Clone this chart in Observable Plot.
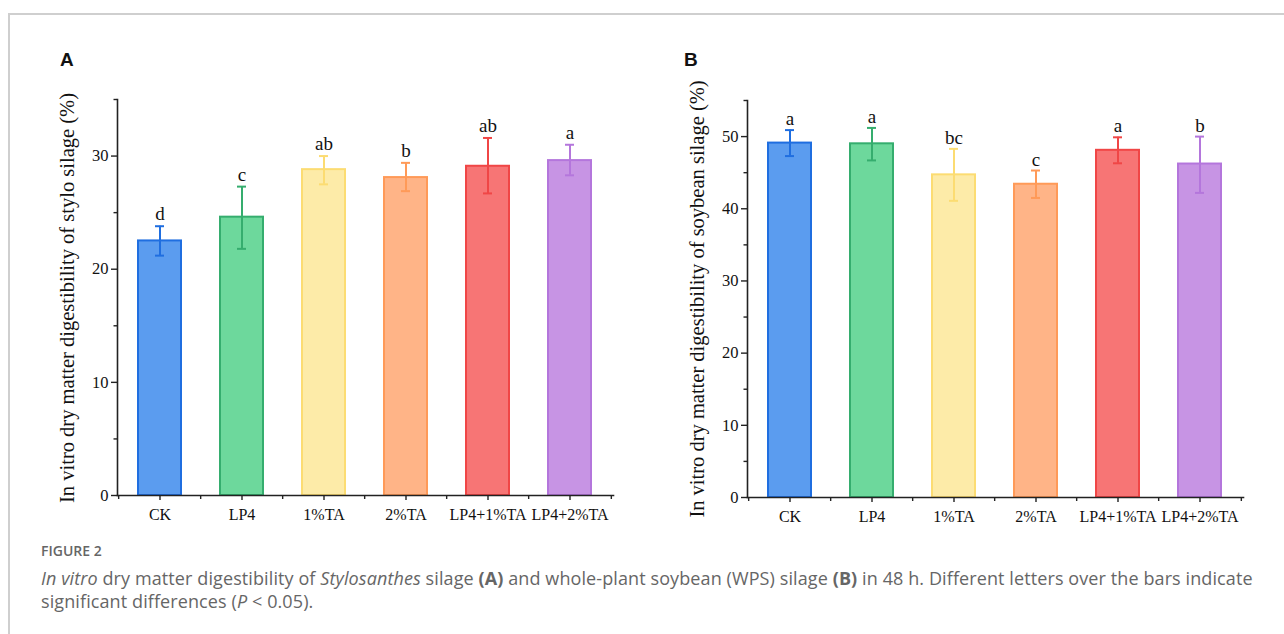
<!DOCTYPE html>
<html>
<head>
<meta charset="utf-8">
<script src="https://cdn.jsdelivr.net/npm/d3@7"></script>
<script src="https://cdn.jsdelivr.net/npm/@observablehq/plot@0.6"></script>
<style>
  html, body { margin: 0; padding: 0; background: #fff; }
  #page { position: relative; width: 1284px; height: 634px; overflow: hidden; }
  .frame { position: absolute; left: 8px; top: 13px; width: 1290px; height: 640px; border-top: 2px solid #cfcfcf; border-left: 2px solid #cfcfcf; }
  .panel { position: absolute; }
  .ytitle { position: absolute; font-family: "Liberation Serif", serif; font-size: 20.5px; color: #111; white-space: nowrap; transform: translate(-50%, -50%) rotate(-90deg); }
  .letter { position: absolute; font-family: "Liberation Sans", Arial, sans-serif; font-weight: bold; font-size: 19px; color: #111; }
  .figlab { position: absolute; left: 41px; top: 541px; font-family: "Open Sans", sans-serif; font-weight: 600; font-size: 14px; color: #666; }
  .caption { position: absolute; left: 41px; top: 567px; font-family: "Open Sans", sans-serif; font-size: 18px; letter-spacing: 0.1px; line-height: 23px; color: #666; white-space: nowrap; }
</style>
</head>
<body>
<div id="page">
  <div class="frame"></div>
  <div class="letter" style="left:60px; top:49px;">A</div>
  <div class="letter" style="left:684px; top:49px;">B</div>
  <div class="ytitle" style="left:67px; top:298px;">In vitro dry matter digestibility of stylo silage (%)</div>
  <div class="ytitle" style="left:697px; top:299px;">In vitro dry matter digestibility of soybean silage (%)</div>
  <div class="panel" id="panelA" style="left:40px; top:70px;"></div>
  <div class="panel" id="panelB" style="left:670px; top:70px;"></div>
  <div class="figlab">FIGURE 2</div>
  <div class="caption"><i>In vitro</i> dry matter digestibility of <i>Stylosanthes</i> silage <b>(A)</b> and whole-plant soybean (WPS) silage <b>(B)</b> in 48 h. Different letters over the bars indicate<br>significant differences (<i>P</i> &lt; 0.05).</div>
</div>
<script>
// ---- Data ----
const categories = ["CK", "LP4", "1%TA", "2%TA", "LP4+1%TA", "LP4+2%TA"];
const fillColors = ["#5b9cef", "#6dd89c", "#fdeba8", "#ffb487", "#f77575", "#c794e4"];
const strokeColors = ["#1f6ee0", "#35ad6e", "#fcdc72", "#ff9a58", "#f04646", "#b476dc"];

const styloMean = [22.5, 24.6, 28.8, 28.1, 29.1, 29.6];
const styloLow = [21.2, 21.8, 27.5, 26.9, 26.7, 28.3];
const styloHigh = [23.8, 27.3, 30.0, 29.4, 31.6, 31.0];
const styloLetters = ["d", "c", "ab", "b", "ab", "a"];

const soyMean = [49.1, 49.0, 44.7, 43.4, 48.1, 46.2];
const soyLow = [47.3, 46.7, 41.1, 41.5, 46.3, 42.2];
const soyHigh = [50.9, 51.2, 48.3, 45.3, 49.9, 50.0];
const soyLetters = ["a", "a", "bc", "c", "a", "b"];

const styloMajor = [0, 10, 20, 30];
const styloMinor = [5, 15, 25, 35];
const soyMajor = [0, 10, 20, 30, 40, 50];
const soyMinor = [5, 15, 25, 35, 45, 55];

function rows(mean, low, high, letters) {
  return categories.map((c, i) => ({
    cat: c, mean: mean[i], low: low[i], high: high[i], letter: letters[i],
    fill: fillColors[i], stroke: strokeColors[i]
  }));
}

function panel(data, yMax, major, minor, marginTop, marginBottom, letterDy) {
  const width = 585, height = 470, marginLeft = 77, marginRight = 12;
  const step = (width - marginLeft - marginRight) / categories.length;
  const serif = "Liberation Serif";
  return Plot.plot({
    width, height, marginLeft, marginRight, marginTop, marginBottom,
    style: { fontFamily: serif, background: "transparent", overflow: "visible" },
    x: { domain: categories, paddingInner: 0.47, paddingOuter: 0.235, axis: null },
    y: { domain: [0, yMax], axis: null },
    color: { type: "identity" },
    marks: [
      Plot.barY(data, { x: "cat", y: "mean", fill: "fill", stroke: "stroke", strokeWidth: 2 }),
      Plot.ruleX(data, { x: "cat", y1: "low", y2: "high", stroke: "stroke", strokeWidth: 2 }),
      Plot.tickY(data, { x: "cat", y: "low", stroke: "stroke", strokeWidth: 2, insetLeft: 17, insetRight: 17 }),
      Plot.tickY(data, { x: "cat", y: "high", stroke: "stroke", strokeWidth: 2, insetLeft: 17, insetRight: 17 }),
      Plot.text(data, { x: "cat", y: "high", text: "letter", dy: letterDy, fontSize: 19, fill: "#111", fontFamily: serif }),
      // axis lines
      Plot.frame({ anchor: "left", stroke: "#222", strokeWidth: 1.6 }),
      Plot.frame({ anchor: "bottom", stroke: "#222", strokeWidth: 1.6 }),
      // y axis ticks
      Plot.axisY({ ticks: major, tickSize: 6, tickPadding: 3, tickFormat: d3.format("d"), fontSize: 16.5, stroke: "#222", strokeWidth: 1.4, color: "#111", label: null }),
      Plot.axisY({ ticks: minor, tickSize: 3.5, tickFormat: () => "", stroke: "#222", strokeWidth: 1.4, label: null }),
      // x axis ticks at categories and boundaries
      Plot.axisX({ ticks: categories, tickSize: 5, tickPadding: 8, fontSize: 16, stroke: "#222", strokeWidth: 1.4, color: "#111", label: null }),
      Plot.axisX({ ticks: categories, tickSize: 4, dx: -step / 2, tickFormat: () => "", stroke: "#222", strokeWidth: 1.4, label: null }),
      Plot.axisX({ ticks: categories.slice(-1), tickSize: 4, dx: step / 2, tickFormat: () => "", stroke: "#222", strokeWidth: 1.4, label: null })
    ]
  });
}

document.getElementById("panelA").appendChild(
  panel(rows(styloMean, styloLow, styloHigh, styloLetters), 35, styloMajor, styloMinor, 29, 45, -12)
);
document.getElementById("panelB").appendChild(
  panel(rows(soyMean, soyLow, soyHigh, soyLetters), 55, soyMajor, soyMinor, 30, 43, -11)
);
</script>
</body>
</html>
